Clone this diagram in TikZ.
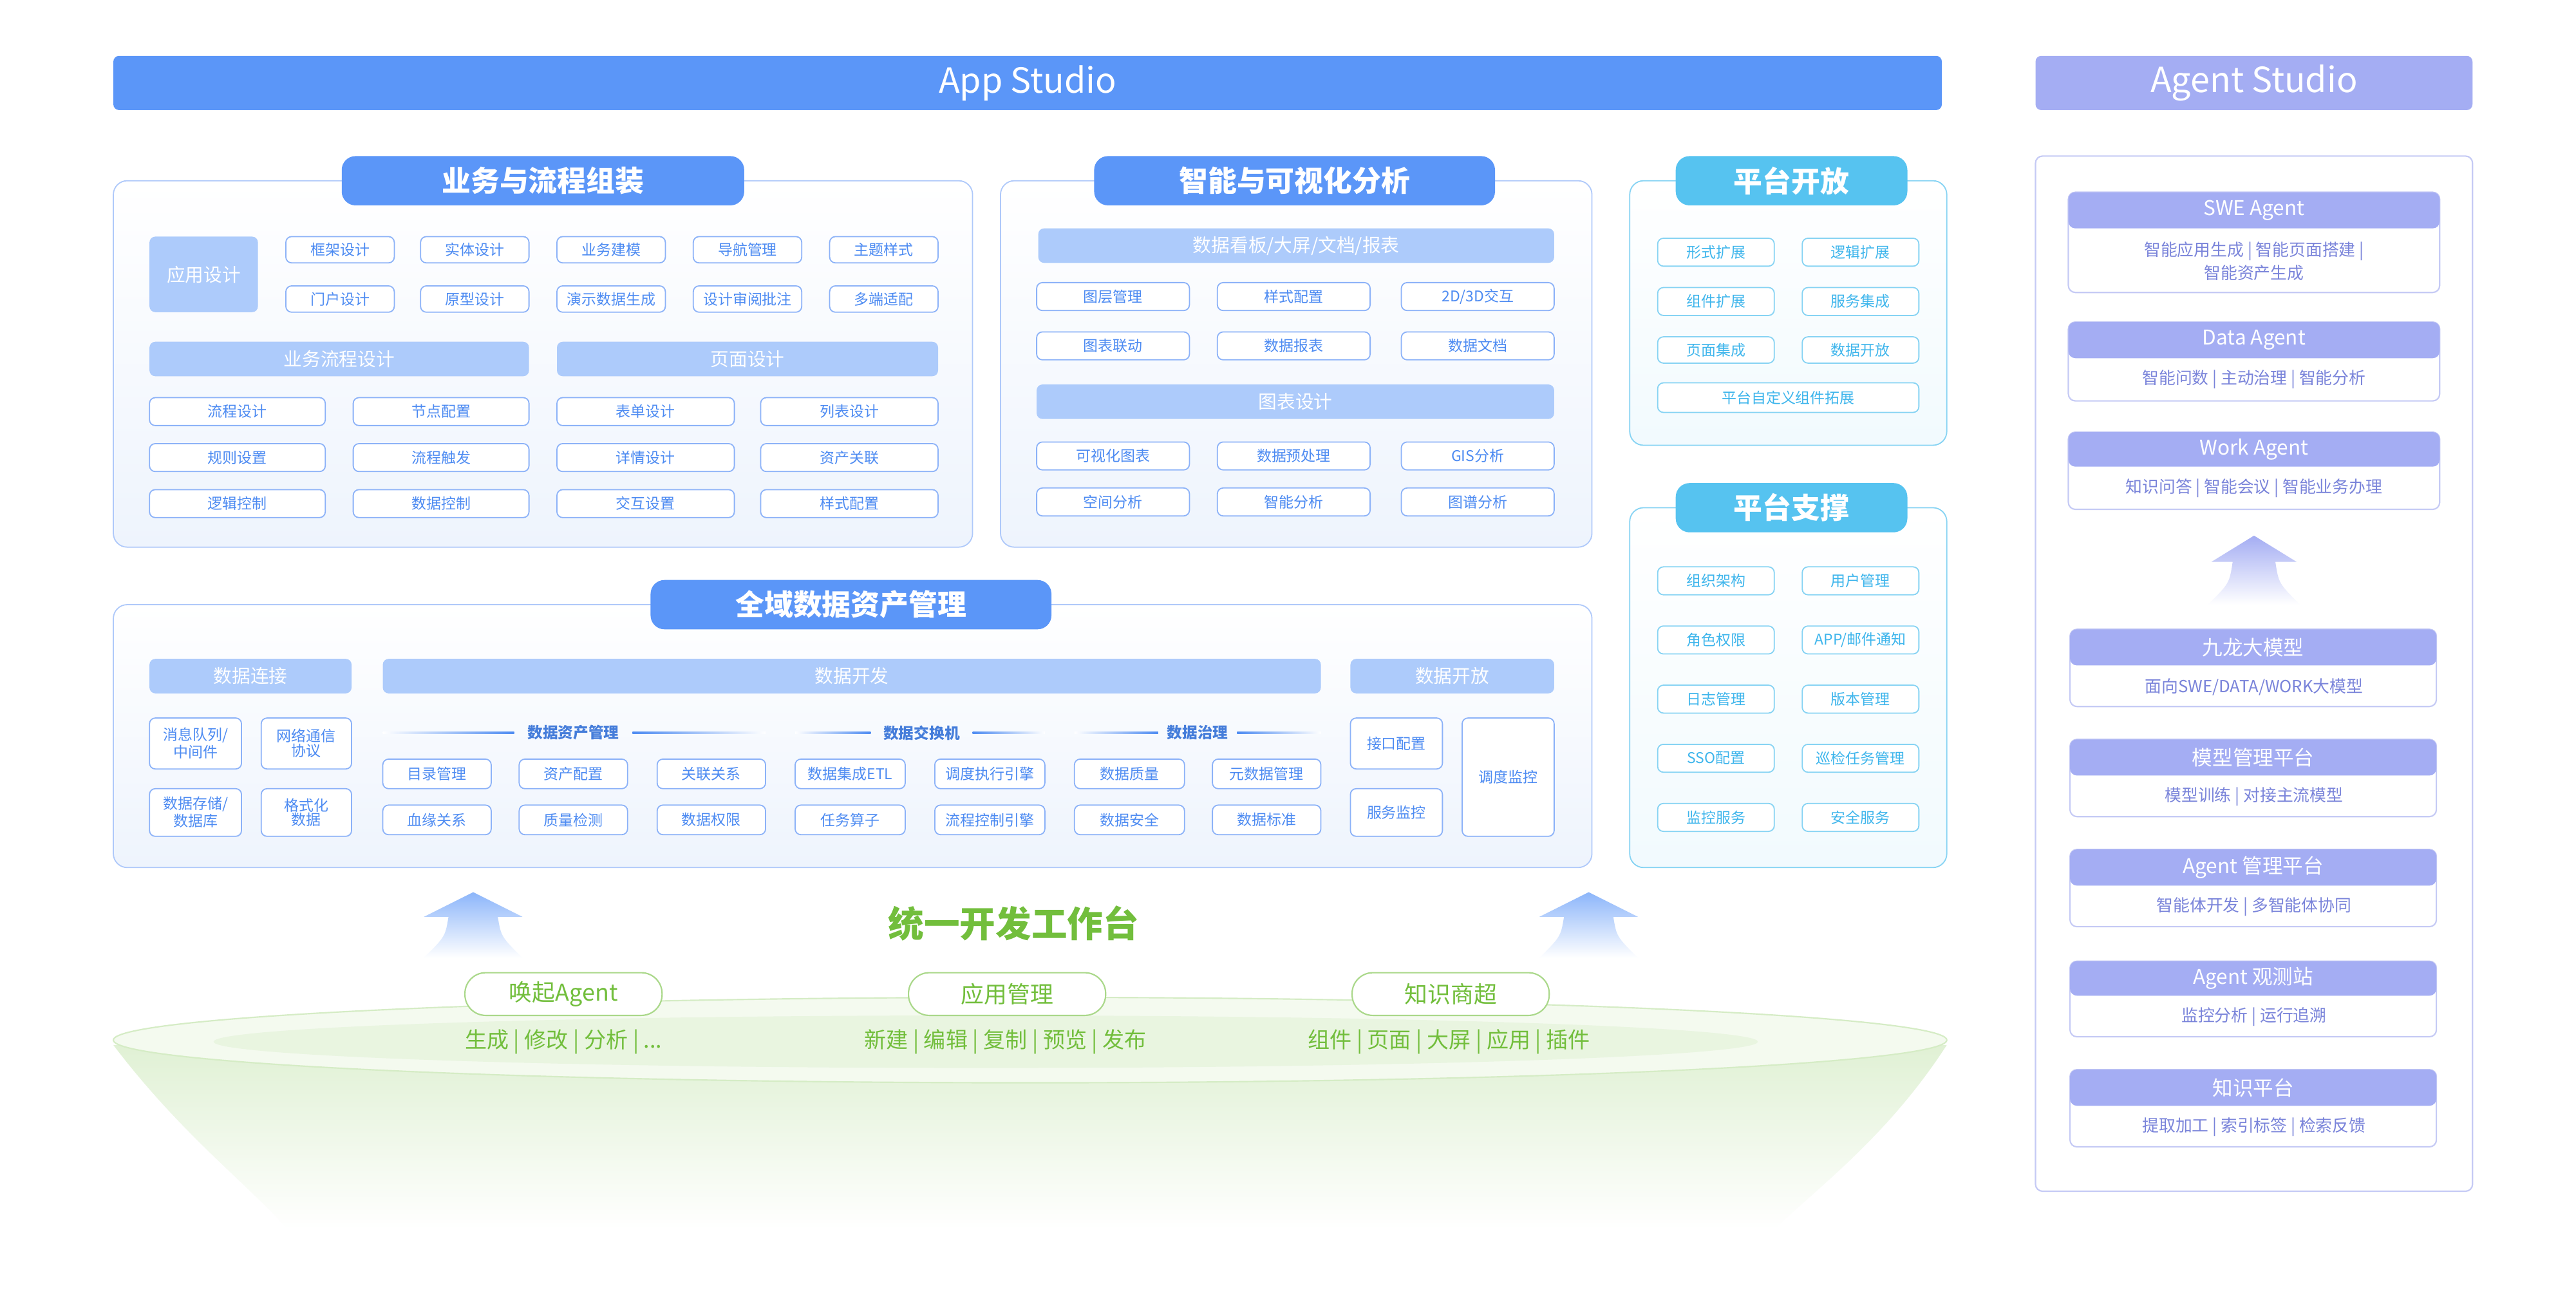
\documentclass[tikz,border=0pt]{standalone}
\usepackage{fontspec}
\setmainfont{Noto Sans CJK SC}
\begin{document}
\definecolor{pb}{HTML}{5B96F8}
\definecolor{lb}{HTML}{ADCBFB}
\definecolor{bb}{HTML}{8CB2F8}
\definecolor{bt}{HTML}{4D8BF2}
\definecolor{cy}{HTML}{56C3F0}
\definecolor{cb}{HTML}{86D3F3}
\definecolor{ct}{HTML}{3DB5EC}
\definecolor{lv}{HTML}{A4ADF3}
\definecolor{lvb}{HTML}{C5CAF5}
\definecolor{lvt}{HTML}{7A84DA}
\definecolor{gr}{HTML}{72BE3C}
\definecolor{pf}{HTML}{EEF4FD}
\newcommand\fs[1]{\fontsize{#1}{#1}\selectfont}
\newcommand\bx[7]{\node[#2,minimum width={(#5-#3)*0.25mm},minimum height={(#6-#4)*0.25mm}] (#1) at ({(#3+#5)/2},{(#4+#6)/2}) {#7};}
\begin{tikzpicture}[x=0.25mm,y=-0.25mm,
  base/.style={inner sep=0pt,outer sep=0pt,align=center,rounded corners=2.5pt},
  bar/.style={base,fill=pb,text=white,font=\fs{15}},
  pill/.style={base,fill=pb,text=white,font=\bfseries\fs{12.5},rounded corners=6pt},
  cpill/.style={pill,fill=cy},
  panel/.style={base,draw=bb!70,line width=0.5pt,top color=white,bottom color=pf,rounded corners=6pt},
  cpanel/.style={panel,draw=cb,bottom color=cy!8},
  hd/.style={base,fill=lb,text=white,font=\fs{8}},
  sb/.style={base,draw=bb,line width=0.5pt,fill=white,text=bt,font=\fs{6.4}},
  cb/.style={sb,draw=cb,text=ct},
  card/.style={base,draw=lvb,line width=0.6pt,fill=white,rounded corners=3pt},
  chd/.style={base,fill=lv,text=white,font=\fs{8.8},rounded corners=3pt},
  ctx/.style={inner sep=0pt,text=lvt,font=\fs{7.2},align=center},
  gpill/.style={base,draw=gr!60,line width=0.6pt,fill=white,text=gr,font=\fs{10},rounded corners=9pt},
  gtx/.style={inner sep=0pt,text=gr,font=\fs{9.5}},
  sect/.style={inner sep=0pt,text=bt!90!black,font=\bfseries\fs{6.6}},
  upar/.style={top color=pb!70,bottom color=white,draw=none}]
\useasboundingbox (0,0) rectangle (1568,792.4);
\fill[white] (0,0) rectangle (1568,792.4);
% top bars
\bx{app}{bar}{69}{34}{1182}{67}{App Studio}
\bx{agent}{bar,fill=lv}{1239}{34}{1505}{67}{Agent Studio}
% ---------- bottom platform
\shade[top color=gr!22,bottom color=white] (69,636) .. controls (110,690) and (150,720) .. (175,748) -- (1080,748) .. controls (1110,720) and (1150,690) .. (1185,636) -- cycle;
\draw[gr!30,line width=0.6pt,fill=gr!8] (627,633) ellipse (558 and 26);
\fill[gr!16] (600,634) ellipse (470 and 16);
\path[upar] (288,543) -- (318,558) -- (303,558) .. controls (305,570) .. (318,583) -- (258,583) .. controls (271,570) .. (273,558) -- (258,558) -- cycle;
\path[upar] (967,543) -- (997,558) -- (982,558) .. controls (984,570) .. (997,583) -- (937,583) .. controls (950,570) .. (952,558) -- (937,558) -- cycle;
\node[inner sep=0pt,text=gr,font=\bfseries\fs{15.5}] (ty) at (617,562) {统一开发工作台};
\bx{g1}{gpill}{283}{592}{403}{618}{唤起Agent}
\bx{g2}{gpill}{553}{592}{673}{618}{应用管理}
\bx{g3}{gpill}{823}{592}{943}{618}{知识商超}
\node[gtx] (t1) at (343,634) {生成 | 修改 | 分析 | ...};
\node[gtx] (t2) at (612,634) {新建 | 编辑 | 复制 | 预览 | 发布};
\node[gtx] (t3) at (882,634) {组件 | 页面 | 大屏 | 应用 | 插件};
% ---------- panel 1
\bx{p1}{panel}{69}{110}{592}{333}{}
\bx{p1t}{pill}{208}{95}{453}{125}{业务与流程组装}
\bx{yy}{hd}{91}{144}{157}{190}{应用设计}
\bx{a1}{sb}{174}{144}{240}{160}{框架设计}
\bx{a2}{sb}{256}{144}{322}{160}{实体设计}
\bx{a3}{sb}{339}{144}{405}{160}{业务建模}
\bx{a4}{sb}{422}{144}{488}{160}{导航管理}
\bx{a5}{sb}{505}{144}{571}{160}{主题样式}
\bx{a6}{sb}{174}{174}{240}{190}{门户设计}
\bx{a7}{sb}{256}{174}{322}{190}{原型设计}
\bx{a8}{sb}{339}{174}{405}{190}{演示数据生成}
\bx{a9}{sb}{422}{174}{488}{190}{设计审阅批注}
\bx{a10}{sb}{505}{174}{571}{190}{多端适配}
\bx{h1}{hd}{91}{208}{322}{229}{业务流程设计}
\bx{h2}{hd}{339}{208}{571}{229}{页面设计}
\bx{b1}{sb}{91}{242}{198}{259}{流程设计}
\bx{b2}{sb}{215}{242}{322}{259}{节点配置}
\bx{b3}{sb}{339}{242}{447}{259}{表单设计}
\bx{b4}{sb}{463}{242}{571}{259}{列表设计}
\bx{b5}{sb}{91}{270}{198}{287}{规则设置}
\bx{b6}{sb}{215}{270}{322}{287}{流程触发}
\bx{b7}{sb}{339}{270}{447}{287}{详情设计}
\bx{b8}{sb}{463}{270}{571}{287}{资产关联}
\bx{b9}{sb}{91}{298}{198}{315}{逻辑控制}
\bx{b10}{sb}{215}{298}{322}{315}{数据控制}
\bx{b11}{sb}{339}{298}{447}{315}{交互设置}
\bx{b12}{sb}{463}{298}{571}{315}{样式配置}
% ---------- panel 2
\bx{p2}{panel}{609}{110}{969}{333}{}
\bx{p2t}{pill}{666}{95}{910}{125}{智能与可视化分析}
\bx{h3}{hd}{632}{139}{946}{160}{数据看板/大屏/文档/报表}
\bx{c1}{sb}{631}{172}{724}{189}{图层管理}
\bx{c2}{sb}{741}{172}{834}{189}{样式配置}
\bx{c3}{sb}{853}{172}{946}{189}{2D/3D交互}
\bx{c4}{sb}{631}{202}{724}{219}{图表联动}
\bx{c5}{sb}{741}{202}{834}{219}{数据报表}
\bx{c6}{sb}{853}{202}{946}{219}{数据文档}
\bx{h4}{hd}{631}{234}{946}{255}{图表设计}
\bx{c7}{sb}{631}{269}{724}{286}{可视化图表}
\bx{c8}{sb}{741}{269}{834}{286}{数据预处理}
\bx{c9}{sb}{853}{269}{946}{286}{GIS分析}
\bx{c10}{sb}{631}{297}{724}{314}{空间分析}
\bx{c11}{sb}{741}{297}{834}{314}{智能分析}
\bx{c12}{sb}{853}{297}{946}{314}{图谱分析}
% ---------- 平台开放
\bx{p3}{cpanel}{992}{110}{1185}{271}{}
\bx{p3t}{cpill}{1020}{95}{1161}{125}{平台开放}
\bx{k1}{cb}{1009}{145}{1080}{162}{形式扩展}
\bx{k2}{cb}{1097}{145}{1168}{162}{逻辑扩展}
\bx{k3}{cb}{1009}{175}{1080}{192}{组件扩展}
\bx{k4}{cb}{1097}{175}{1168}{192}{服务集成}
\bx{k5}{cb}{1009}{205}{1080}{221}{页面集成}
\bx{k6}{cb}{1097}{205}{1168}{221}{数据开放}
\bx{k7}{cb}{1009}{233}{1168}{251}{平台自定义组件拓展}
% ---------- 平台支撑
\bx{p4}{cpanel}{992}{309}{1185}{528}{}
\bx{p4t}{cpill}{1020}{294}{1161}{324}{平台支撑}
\bx{s1}{cb}{1009}{345}{1080}{362}{组织架构}
\bx{s2}{cb}{1097}{345}{1168}{362}{用户管理}
\bx{s3}{cb}{1009}{381}{1080}{398}{角色权限}
\bx{s4}{cb}{1097}{381}{1168}{398}{APP/邮件通知}
\bx{s5}{cb}{1009}{417}{1080}{434}{日志管理}
\bx{s6}{cb}{1097}{417}{1168}{434}{版本管理}
\bx{s7}{cb}{1009}{453}{1080}{470}{SSO配置}
\bx{s8}{cb}{1097}{453}{1168}{470}{巡检任务管理}
\bx{s9}{cb}{1009}{489}{1080}{506}{监控服务}
\bx{s10}{cb}{1097}{489}{1168}{506}{安全服务}
% ---------- 全域数据资产管理
\bx{p5}{panel}{69}{368}{969}{528}{}
\bx{p5t}{pill}{396}{353}{640}{383}{全域数据资产管理}
\bx{h5}{hd}{91}{401}{214}{422}{数据连接}
\bx{h6}{hd}{233}{401}{804}{422}{数据开发}
\bx{h7}{hd}{822}{401}{946}{422}{数据开放}
\bx{d1}{sb}{91}{437}{147}{468}{消息队列/\\中间件}
\bx{d2}{sb}{159}{437}{214}{468}{网络通信\\协议}
\bx{d3}{sb}{91}{480}{147}{509}{数据存储/\\数据库}
\bx{d4}{sb}{159}{480}{214}{509}{格式化\\数据}
\node[sect] (l1) at (349,446) {数据资产管理};
\node[sect] (l2) at (561,446) {数据交换机};
\node[sect] (l3) at (729,446) {数据治理};
\shade[left color=white,right color=bt] (233,445.3) rectangle (313,446.7);
\shade[left color=bt,right color=white] (385,445.3) rectangle (466,446.7);
\shade[left color=white,right color=bt] (484,445.3) rectangle (530,446.7);
\shade[left color=bt,right color=white] (592,445.3) rectangle (636,446.7);
\shade[left color=white,right color=bt] (654,445.3) rectangle (705,446.7);
\shade[left color=bt,right color=white] (753,445.3) rectangle (804,446.7);
\bx{e1}{sb}{233}{462}{299}{480}{目录管理}
\bx{e2}{sb}{316}{462}{382}{480}{资产配置}
\bx{e3}{sb}{400}{462}{466}{480}{关联关系}
\bx{e4}{sb}{484}{462}{551}{480}{数据集成ETL}
\bx{e5}{sb}{569}{462}{636}{480}{调度执行引擎}
\bx{e6}{sb}{654}{462}{721}{480}{数据质量}
\bx{e7}{sb}{738}{462}{804}{480}{元数据管理}
\bx{f1}{sb}{233}{490}{299}{508}{血缘关系}
\bx{f2}{sb}{316}{490}{382}{508}{质量检测}
\bx{f3}{sb}{400}{490}{466}{508}{数据权限}
\bx{f4}{sb}{484}{490}{551}{508}{任务算子}
\bx{f5}{sb}{569}{490}{636}{508}{流程控制引擎}
\bx{f6}{sb}{654}{490}{721}{508}{数据安全}
\bx{f7}{sb}{738}{490}{804}{508}{数据标准}
\bx{o1}{sb}{822}{437}{878}{468}{接口配置}
\bx{o2}{sb}{822}{480}{878}{509}{服务监控}
\bx{o3}{sb}{890}{437}{946}{509}{调度监控}
% ---------- Agent Studio panel
\bx{ap}{card}{1239}{95}{1505}{725}{}
\bx{w1}{card}{1259}{117}{1485}{178}{}
\bx{w1h}{chd}{1259}{117}{1485}{139}{SWE Agent}
\node[ctx] (w1t) at (1372,159) {智能应用生成 | 智能页面搭建 |\\[1pt]智能资产生成};
\bx{w2}{card}{1259}{196}{1485}{244}{}
\bx{w2h}{chd}{1259}{196}{1485}{218}{Data Agent}
\node[ctx] (w2t) at (1372,231) {智能问数 | 主动治理 | 智能分析};
\bx{w3}{card}{1259}{263}{1485}{310}{}
\bx{w3h}{chd}{1259}{263}{1485}{284}{Work Agent}
\node[ctx] (w3t) at (1372,297) {知识问答 | 智能会议 | 智能业务办理};
\path[top color=lv,bottom color=white,draw=none] (1372,326) -- (1398,342) -- (1385,342) .. controls (1387,355) .. (1400,368) -- (1344,368) .. controls (1357,355) .. (1359,342) -- (1346,342) -- cycle;
\bx{m1}{card}{1260}{383}{1483}{430}{}
\bx{m1h}{chd}{1260}{383}{1483}{405}{九龙大模型}
\node[ctx] (m1t) at (1372,418) {面向SWE/DATA/WORK大模型};
\bx{m2}{card}{1260}{450}{1483}{497}{}
\bx{m2h}{chd}{1260}{450}{1483}{472}{模型管理平台}
\node[ctx] (m2t) at (1372,485) {模型训练 | 对接主流模型};
\bx{m3}{card}{1260}{517}{1483}{564}{}
\bx{m3h}{chd}{1260}{517}{1483}{539}{Agent 管理平台}
\node[ctx] (m3t) at (1372,552) {智能体开发 | 多智能体协同};
\bx{m4}{card}{1260}{585}{1483}{631}{}
\bx{m4h}{chd}{1260}{585}{1483}{606}{Agent 观测站}
\node[ctx] (m4t) at (1372,619) {监控分析 | 运行追溯};
\bx{m5}{card}{1260}{651}{1483}{698}{}
\bx{m5h}{chd}{1260}{651}{1483}{673}{知识平台}
\node[ctx] (m5t) at (1372,686) {提取加工 | 索引标签 | 检索反馈};
\end{tikzpicture}
\end{document}
